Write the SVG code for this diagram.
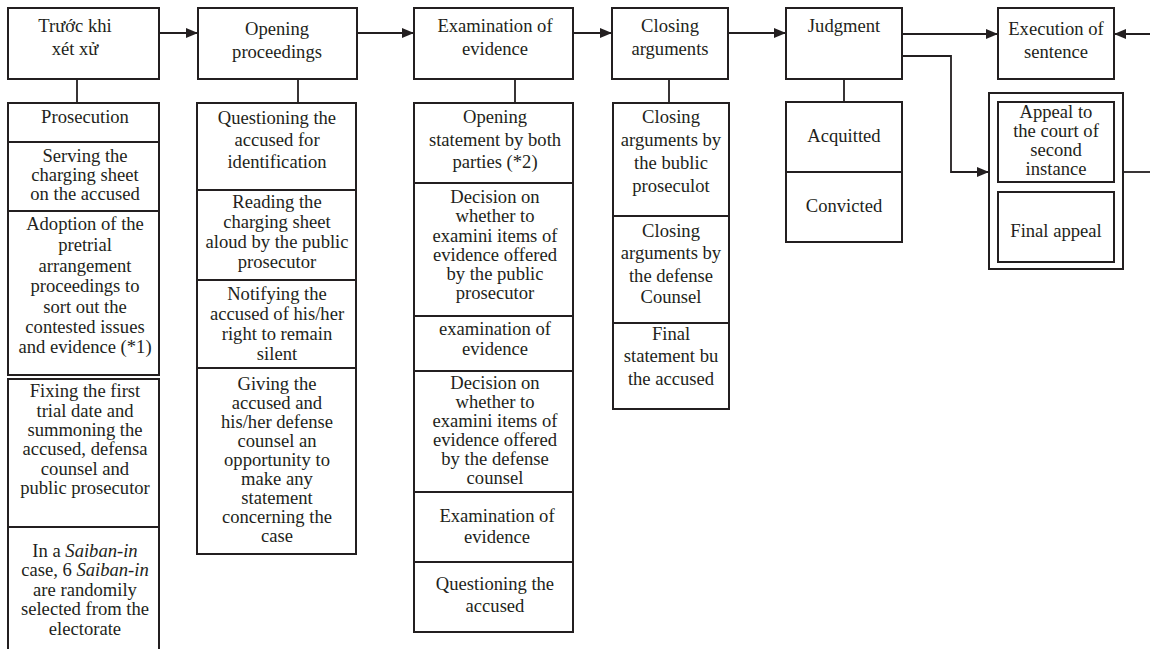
<svg xmlns="http://www.w3.org/2000/svg" width="1150" height="649" viewBox="0 0 1150 649">
<style>
.b{fill:#fff;stroke:#231f20;stroke-width:2}
.c{fill:none;stroke:#231f20;stroke-width:1.8}
text{font-family:'Liberation Serif',Tinos,'Times New Roman','DejaVu Serif Condensed','DejaVu Serif',serif;font-stretch:condensed;font-size:18.6px;fill:#231f20;text-anchor:middle}
.i{font-style:italic}
</style>
<defs>
<marker id="ah" markerUnits="userSpaceOnUse" markerWidth="12" markerHeight="10" refX="12" refY="5" orient="auto">
<path d="M0,0 L12,5 L0,10 z" fill="#231f20"/>
</marker>
</defs>
<rect x="0" y="0" width="1150" height="649" fill="#ffffff"/>
<g id="connectors">
<path class="c" d="M159,33 H198" marker-end="url(#ah)"/>
<path class="c" d="M357,33 H414" marker-end="url(#ah)"/>
<path class="c" d="M573,33 H612" marker-end="url(#ah)"/>
<path class="c" d="M728,33 H786" marker-end="url(#ah)"/>
<path class="c" d="M902,34 H998" marker-end="url(#ah)"/>
<path class="c" d="M1150,34 H1114" marker-end="url(#ah)"/>
<path class="c" d="M902,56 H951 V172 H989" marker-end="url(#ah)"/>
<path class="c" d="M1123,172 H1150"/>
<path class="c" d="M77,79 V103"/>
<path class="c" d="M298,79 V103"/>
<path class="c" d="M515,79 V103"/>
<path class="c" d="M669,79 V103"/>
<path class="c" d="M844,79 V102"/>
</g>
<g id="n-pretrial">
<rect class="b" x="8" y="8" width="151" height="71"/>
<text x="75" y="32">Trước khi</text>
<text x="75" y="55">xét xử</text>
</g>
<g id="n-opening">
<rect class="b" x="198" y="8" width="159" height="71"/>
<text x="277" y="35">Opening</text>
<text x="277" y="58">proceedings</text>
</g>
<g id="n-examination">
<rect class="b" x="414" y="8" width="159" height="71"/>
<text x="495" y="32">Examination of</text>
<text x="495" y="55">evidence</text>
</g>
<g id="n-closing">
<rect class="b" x="612" y="8" width="116" height="71"/>
<text x="670" y="32">Closing</text>
<text x="670" y="55">arguments</text>
</g>
<g id="n-judgment">
<rect class="b" x="786" y="8" width="116" height="71"/>
<text x="844" y="32">Judgment</text>
</g>
<g id="n-execution">
<rect class="b" x="998" y="8" width="116" height="71"/>
<text x="1056" y="35">Execution of</text>
<text x="1056" y="58">sentence</text>
</g>
<g id="n-prosecution-col">
<rect class="b" x="8" y="103" width="151" height="39"/>
<rect class="b" x="8" y="142" width="151" height="69"/>
<rect class="b" x="8" y="211" width="151" height="164"/>
<rect class="b" x="8" y="379" width="151" height="148"/>
<rect class="b" x="8" y="527" width="151" height="130"/>
<text x="85" y="123">Prosecution</text>
<text x="85" y="162">Serving the</text>
<text x="85" y="181">charging sheet</text>
<text x="85" y="200">on the accused</text>
<text x="85" y="230">Adoption of the</text>
<text x="85" y="251">pretrial</text>
<text x="85" y="272">arrangement</text>
<text x="85" y="292">proceedings to</text>
<text x="85" y="313">sort out the</text>
<text x="85" y="333">contested issues</text>
<text x="85" y="353">and evidence (*1)</text>
<text x="85" y="397">Fixing the first</text>
<text x="85" y="417">trial date and</text>
<text x="85" y="436">summoning the</text>
<text x="85" y="455">accused, defensa</text>
<text x="85" y="475">counsel and</text>
<text x="85" y="494">public prosecutor</text>
<text x="85" y="557">In a <tspan class="i">Saiban-in</tspan></text>
<text x="85" y="576">case, 6 <tspan class="i">Saiban-in</tspan></text>
<text x="85" y="596">are randomily</text>
<text x="85" y="615">selected from the</text>
<text x="85" y="635">electorate</text>
</g>
<g id="n-opening-col">
<rect class="b" x="197" y="103" width="159" height="87"/>
<rect class="b" x="197" y="190" width="159" height="90"/>
<rect class="b" x="197" y="280" width="159" height="88"/>
<rect class="b" x="197" y="368" width="159" height="186"/>
<text x="277" y="124">Questioning the</text>
<text x="277" y="146">accused for</text>
<text x="277" y="168">identification</text>
<text x="277" y="208">Reading the</text>
<text x="277" y="228">charging sheet</text>
<text x="277" y="248">aloud by the public</text>
<text x="277" y="268">prosecutor</text>
<text x="277" y="300">Notifying the</text>
<text x="277" y="320">accused of his/her</text>
<text x="277" y="340">right to remain</text>
<text x="277" y="360">silent</text>
<text x="277" y="390">Giving the</text>
<text x="277" y="409">accused and</text>
<text x="277" y="428">his/her defense</text>
<text x="277" y="447">counsel an</text>
<text x="277" y="466">opportunity to</text>
<text x="277" y="485">make any</text>
<text x="277" y="504">statement</text>
<text x="277" y="523">concerning the</text>
<text x="277" y="542">case</text>
</g>
<g id="n-examination-col">
<rect class="b" x="414" y="103" width="159" height="80"/>
<rect class="b" x="414" y="183" width="159" height="133"/>
<rect class="b" x="414" y="316" width="159" height="55"/>
<rect class="b" x="414" y="371" width="159" height="121"/>
<rect class="b" x="414" y="492" width="159" height="70"/>
<rect class="b" x="414" y="562" width="159" height="70"/>
<text x="495" y="123">Opening</text>
<text x="495" y="146">statement by both</text>
<text x="495" y="168">parties (*2)</text>
<text x="495" y="203">Decision on</text>
<text x="495" y="222">whether to</text>
<text x="495" y="242">examini items of</text>
<text x="495" y="261">evidence offered</text>
<text x="495" y="280">by the public</text>
<text x="495" y="299">prosecutor</text>
<text x="495" y="335">examination of</text>
<text x="495" y="355">evidence</text>
<text x="495" y="389">Decision on</text>
<text x="495" y="408">whether to</text>
<text x="495" y="427">examini items of</text>
<text x="495" y="446">evidence offered</text>
<text x="495" y="465">by the defense</text>
<text x="495" y="484">counsel</text>
<text x="497" y="522">Examination of</text>
<text x="497" y="543">evidence</text>
<text x="495" y="590">Questioning the</text>
<text x="495" y="612">accused</text>
</g>
<g id="n-closing-col">
<rect class="b" x="613" y="103" width="116" height="113"/>
<rect class="b" x="613" y="216" width="116" height="107"/>
<rect class="b" x="613" y="323" width="116" height="86"/>
<text x="671" y="123">Closing</text>
<text x="671" y="146">arguments by</text>
<text x="671" y="169">the bublic</text>
<text x="671" y="192">proseculot</text>
<text x="671" y="237">Closing</text>
<text x="671" y="259">arguments by</text>
<text x="671" y="282">the defense</text>
<text x="671" y="303">Counsel</text>
<text x="671" y="340">Final</text>
<text x="671" y="362">statement bu</text>
<text x="671" y="385">the accused</text>
</g>
<g id="n-judgment-col">
<rect class="b" x="786" y="102" width="116" height="70"/>
<rect class="b" x="786" y="172" width="116" height="70"/>
<text x="844" y="142">Acquitted</text>
<text x="844" y="212">Convicted</text>
</g>
<g id="n-appeal">
<rect class="b" x="989" y="93" width="134" height="176"/>
<rect class="b" x="998" y="102" width="116" height="80"/>
<rect class="b" x="998" y="192" width="116" height="70"/>
<text x="1056" y="118">Appeal to</text>
<text x="1056" y="137">the court of</text>
<text x="1056" y="156">second</text>
<text x="1056" y="175">instance</text>
<text x="1056" y="237">Final appeal</text>
</g>
</svg>
